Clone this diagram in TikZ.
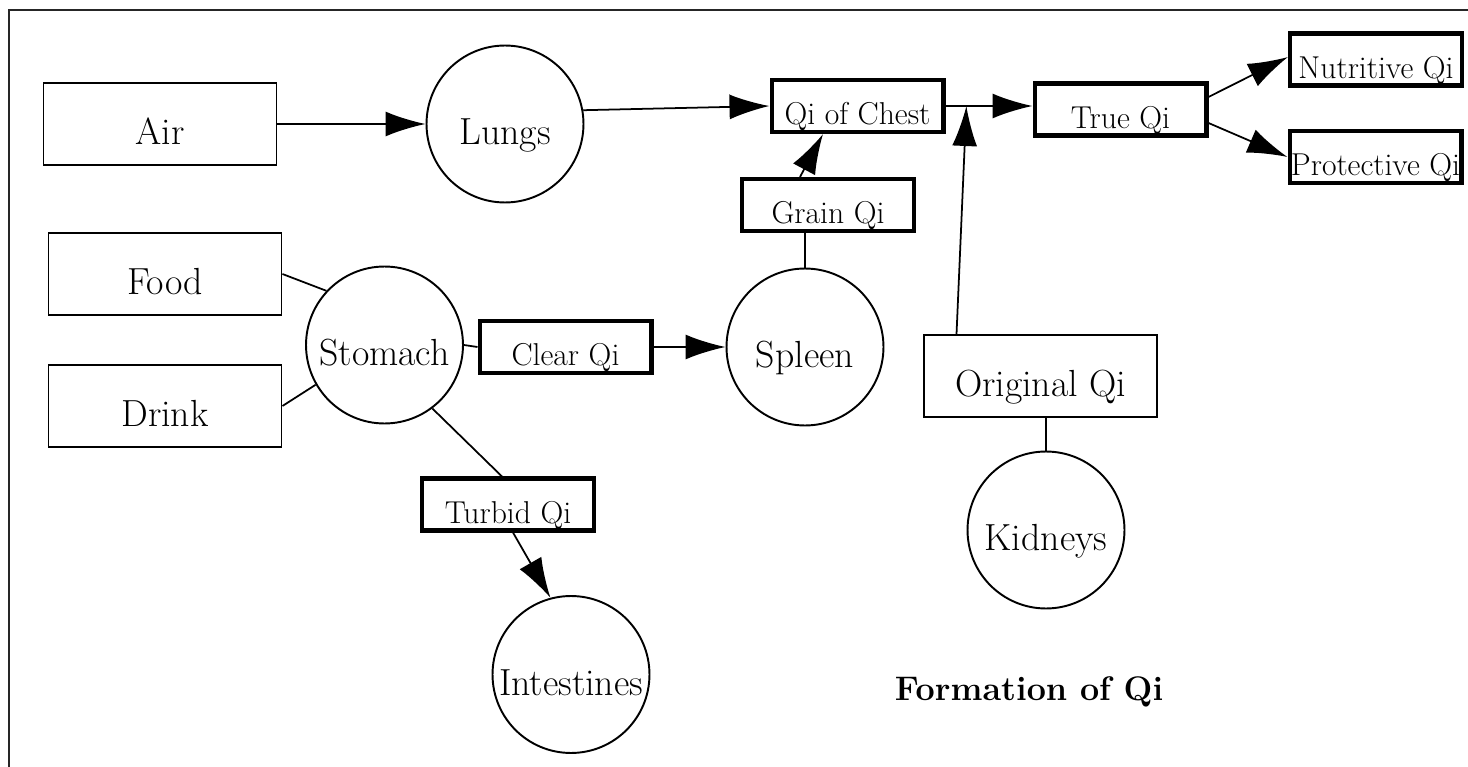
\documentclass[tikz,border=0pt]{standalone}
\usepackage{tikz}
\usetikzlibrary{arrows.meta, positioning, calc}
\newcommand{\qifont}{\rmfamily}
\tikzset{
  organ/.style={circle, draw, line width=1.1pt, minimum size=3.14cm,
                inner sep=0pt, text height=0.84cm, text depth=0pt,
                font=\fontsize{21.5}{25}\selectfont},
  src/.style={rectangle, draw, line width=1.1pt, minimum width=4.66cm,
              minimum height=1.64cm, inner sep=0pt, text height=0.84cm,
              text depth=0pt, font=\fontsize{21.5}{25}\selectfont},
  qi/.style={rectangle, draw, line width=2.3pt, minimum width=3.44cm,
             minimum height=1.04cm, inner sep=0pt, text height=0.75cm,
             text depth=0pt, font=\fontsize{18}{21}\qifont},
  arr/.style={-{Latex[length=0.8cm, width=0.5cm]}, line width=1pt},
  ln/.style={line width=1pt},
}

\begin{document}
\begin{tikzpicture}[
  x=0.02cm, y=-0.02cm,
  frame/.style={line width=0.055cm, black!85},
]
  \useasboundingbox (0,0) rectangle (1468,767);
  \draw[frame] (9,767) -- (9,10) -- (1468,10);

  % sources and organs
  \node[src] (air) at (160,124) {Air};
  \node[organ] (lungs) at (505,124) {Lungs};
  \node[src] (food) at (165,274) {Food};
  \node[src] (drink) at (165,406) {Drink};
  \node[organ] (stomach) at (384.5,345) {Stomach};
  \node[organ] (spleen) at (805,347) {Spleen};
  \node[organ] (intest) at (571,674.5) {Intestines};
  \node[src] (orig) at (1040.5,376) {Original Qi};
  \node[organ] (kid) at (1046,530) {Kidneys};

  % kinds of qi
  \node[qi] (clear) at (565.5,347) {Clear Qi};
  \node[qi] (turbid) at (508,504.5) {Turbid Qi};
  \node[qi] (grain) at (828,205) {Grain Qi};
  \node[qi] (chest) at (857.5,106) {Qi of Chest};
  \node[qi] (true) at (1120.5,109.5) {True Qi};
  \node[qi] (nutri) at (1376,59.5) {Nutritive Qi};
  \node[qi] (prot) at (1375.5,157) {Protective Qi};

  \node[font=\fontsize{19.4}{23}\qifont\bfseries] (title) at (1029,692) {Formation of Qi};

  % connectors
  \draw[arr] (air.east) -- (lungs.west);
  \draw[arr] (lungs.10) -- (chest.west);
  \draw[arr] (chest.east) -- (chest.east -| true.west);
  \coordinate (join) at ($(chest.east)!0.24!(chest.east -| true.west)$);
  \draw[arr] ([xshift=-1.68cm]orig.north) -- (join);
  \draw[ln] (kid.north) -- (kid.north |- orig.south);
  \draw[ln] (food.east) -- (stomach.137);
  \draw[ln] (drink.east) -- (stomach.210);
  \draw[ln] (stomach.east) -- (clear.west);
  \draw[arr] (clear.east) -- (spleen.west);
  \draw[ln] (spleen.north) -- (spleen.north |- grain.south);
  \draw[arr] ([xshift=-0.56cm]grain.north) -- ([xshift=-0.69cm]chest.south);
  \draw[arr] ([yshift=0.25cm]true.east) -- ([yshift=0.05cm]nutri.west);
  \draw[arr] ([yshift=-0.27cm]true.east) -- (prot.west);
  \draw[ln] (stomach.-53) -- ([xshift=-0.12cm]turbid.north);
  \draw[arr] ([xshift=0.1cm]turbid.south) -- (intest.105);
\end{tikzpicture}
\end{document}
